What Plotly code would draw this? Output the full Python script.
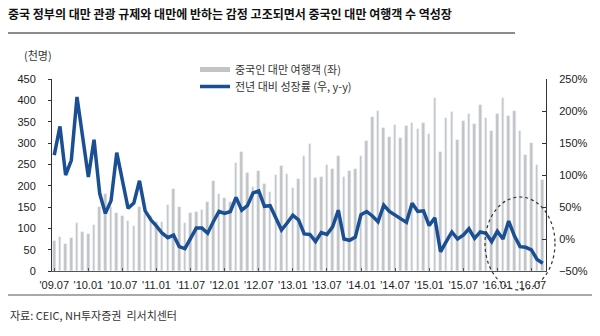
import plotly.graph_objects as go

# ---------------- data ----------------
years = list(range(2009, 2017))
months = [f"{y}.{m:02d}" for y in years for m in range(1, 13)]
months = [m for m in months if "2009.07" <= m <= "2016.09"]

visitors = [70, 80, 63, 77, 113, 91, 87, 107, 150, 181, 150, 135, 129, 118, 105, 150,
            134, 129, 116, 114, 154, 193, 151, 113, 136, 138,
            144, 162, 212, 181, 170, 162, 252, 278,
            229, 198, 234, 205, 186, 225, 246, 228, 194, 216, 270, 298, 218, 221, 248, 240, 270,
            221, 234, 239, 269, 305, 360, 376, 334, 315, 342, 312,
            341, 347, 333, 347, 320, 406, 279, 359, 372, 307, 351, 367, 344, 388, 358, 328,
            367, 405, 364, 376, 328, 272, 299, 248, 214]

growth = [131, 176, 100, 123, 222, 160, 97, 155, 71, 40, 60, 135, 88, 48, 56, 91,
          44, 30, 20, 9, 2, 6, -12, -15, 1, 17,
          17, 9, 27, 43, 40, 43, 65, 45,
          52, 72, 75, 51, 52, 33, 14, 25, 37, 30, 8, 7, -4, 10, 7, 19, 45,
          0, -2, 3, 38, 43, 36, 27, 53, 43, 37, 31,
          26, 56, 43, 44, 21, 33, -20, -4, 11, 0, 6, 16, 1, 11, 9, -4,
          12, 0, 28, 5, -12, -13, -17, -32, -38]

tick_months = months[0::6]
tick_labels = ["'09.07", "'10.01", "'10.07", "'11.01", "'11.07", "'12.01", "'12.07", "'13.01",
               "'13.07", "'14.01", "'14.07", "'15.01", "'15.07", "'16.01", "'16.07"]

name_bar = "중국인 대만 여행객 (좌)"
name_line = "전년 대비 성장률 (우, y-y)"
title = "중국 정부의 대만 관광 규제와 대만에 반하는 감정 고조되면서 중국인 대만 여행객 수 역성장"
source = "자료: CEIC, NH투자증권  리서치센터"

# ---------------- figure ----------------
KR = "Noto Sans CJK KR"
LAT = "Liberation Sans, Arial"
BAR_C = "#C3C3C3"
LINE_C = "#1B4F93"

fig = go.Figure()
fig.add_trace(go.Bar(x=months, y=visitors, marker_color=BAR_C, width=0.45,
                     name=name_bar, showlegend=False, yaxis="y"))
# legend proxy for bars (drawn as a thick grey stroke like the reference)
fig.add_trace(go.Scatter(x=[None], y=[None], mode="lines", name=name_bar,
                         line=dict(color=BAR_C, width=5), yaxis="y", legend="legend"))
fig.add_trace(go.Scatter(x=months, y=growth, mode="lines", name=name_line,
                         line=dict(color=LINE_C, width=3.5), yaxis="y2", legend="legend2"))

L, R, T, B = 52, 54, 79, 65
W, H = 600 - L - R, 336 - T - B

def px(xp):
    return (xp - L) / W

def py(yp):
    return (336 - B - yp) / H

legend_common = dict(xanchor="left", yanchor="top", bgcolor="rgba(0,0,0,0)", itemwidth=30,
                     font=dict(family=KR, size=11, color="#333333"))

fig.update_layout(
    width=600, height=336,
    margin=dict(l=L, r=R, t=T, b=B),
    paper_bgcolor="white", plot_bgcolor="white",
    bargap=0,
    title=dict(text="<b>" + title + "</b>", x=8 / 600, y=1 - 15 / 336,
               xref="container", yref="container", xanchor="left", yanchor="middle",
               font=dict(family=KR, size=12, color="#111111")),
    xaxis=dict(type="category", range=[-0.4, len(months) - 0.43],
               tickmode="array", tickvals=tick_months, ticktext=tick_labels,
               ticks="inside", ticklen=3, tickcolor="#555555",
               showline=True, linecolor="#555555", linewidth=1,
               showgrid=False, zeroline=False, ticklabelstandoff=4,
               tickfont=dict(family=LAT, size=11, color="#222222")),
    yaxis=dict(range=[0, 450], dtick=50, ticks="outside", ticklen=3,
               tickcolor="#333333", showline=True, linecolor="#333333", linewidth=1,
               showgrid=False, zeroline=False, ticklabelstandoff=10,
               tickfont=dict(family=LAT, size=11, color="#222222")),
    yaxis2=dict(range=[-50, 250], dtick=50, ticksuffix="%", overlaying="y", side="right",
                ticks="inside", ticklen=4, tickcolor="#333333",
                showline=True, linecolor="#333333", linewidth=1,
                showgrid=False, zeroline=False, ticklabelstandoff=10,
                tickfont=dict(family=LAT, size=11, color="#222222")),
    legend=dict(x=px(195), y=py(55), **legend_common),
    legend2=dict(x=px(195), y=py(72), **legend_common),
    showlegend=True,
)

fig.add_annotation(text="(천명)", xref="paper", yref="paper", x=px(38), y=py(55),
                   xanchor="center", yanchor="middle", showarrow=False,
                   font=dict(family=KR, size=11, color="#333333"))
fig.add_annotation(text=source, xref="paper", yref="paper", x=px(8), y=py(315),
                   xanchor="left", yanchor="middle", showarrow=False,
                   font=dict(family=KR, size=11, color="#333333"))

# rules
fig.add_shape(type="line", xref="paper", yref="paper", x0=px(8), x1=px(515),
              y0=py(33), y1=py(33), line=dict(color="#8C8C8C", width=2))
fig.add_shape(type="line", xref="paper", yref="paper", x0=px(8), x1=px(592),
              y0=py(295), y1=py(295), line=dict(color="#8C8C8C", width=1.5))
# dotted ellipse highlight
fig.add_shape(type="circle", xref="paper", yref="paper", x0=px(485), x1=px(555),
              y0=py(290), y1=py(197), line=dict(color="#333333", width=1.2, dash="dot"))

fig.write_html("out.html")
